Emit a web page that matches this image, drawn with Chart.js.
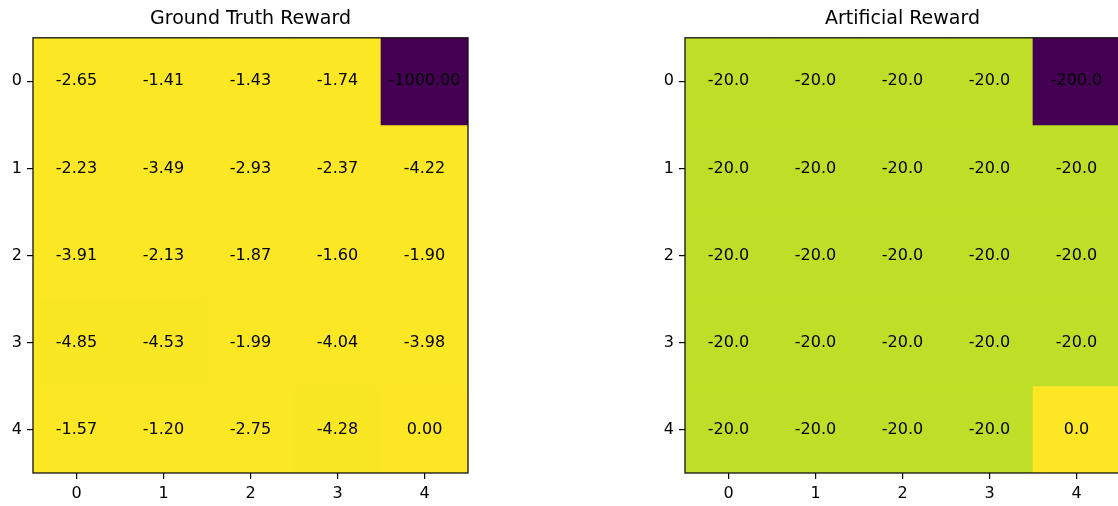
<!DOCTYPE html>
<html>
<head>
<meta charset="utf-8">
<script src="https://cdn.jsdelivr.net/npm/chart.js@4/dist/chart.umd.min.js"></script>
<style>
  html, body { margin: 0; padding: 0; background: #fff; overflow: hidden; width: 1118px; height: 506px; }
  canvas { position: absolute; top: 0; }
</style>
</head>
<body>
<canvas id="gt" width="470" height="506" style="left:0px"></canvas>
<canvas id="art" width="470" height="506" style="left:652px"></canvas>
<script>
// Grid coordinates (0..4 along both axes)
const tickLabels = ['0', '1', '2', '3', '4'];

// Ground truth reward, one array per grid row
const gtRow0 = [-2.65, -1.41, -1.43, -1.74, -1000.00];
const gtRow1 = [-2.23, -3.49, -2.93, -2.37, -4.22];
const gtRow2 = [-3.91, -2.13, -1.87, -1.60, -1.90];
const gtRow3 = [-4.85, -4.53, -1.99, -4.04, -3.98];
const gtRow4 = [-1.57, -1.20, -2.75, -4.28, 0.00];

// Artificial reward, one array per grid row
const artRow0 = [-20.0, -20.0, -20.0, -20.0, -200.0];
const artRow1 = [-20.0, -20.0, -20.0, -20.0, -20.0];
const artRow2 = [-20.0, -20.0, -20.0, -20.0, -20.0];
const artRow3 = [-20.0, -20.0, -20.0, -20.0, -20.0];
const artRow4 = [-20.0, -20.0, -20.0, -20.0, 0.0];

// Viridis colour stops (17 evenly spaced samples)
const viridisStops = [
  '#440154', '#48186a', '#472d7b', '#424086', '#3b528b', '#33638d',
  '#2c728e', '#26828e', '#21918c', '#1fa088', '#28ae80', '#3fbc73',
  '#5ec962', '#84d44b', '#addc30', '#d8e219', '#fde725'
];

function hexToRgb(h) {
  const n = parseInt(h.slice(1), 16);
  return [(n >> 16) & 255, (n >> 8) & 255, n & 255];
}

function viridis(t) {
  t = Math.max(0, Math.min(1, t));
  const pos = t * (viridisStops.length - 1);
  const i = Math.min(Math.floor(pos), viridisStops.length - 2);
  const f = pos - i;
  const a = hexToRgb(viridisStops[i]);
  const b = hexToRgb(viridisStops[i + 1]);
  const c = a.map((v, k) => Math.round(v + (b[k] - v) * f));
  return `rgb(${c[0]},${c[1]},${c[2]})`;
}

Chart.defaults.font.family = "'DejaVu Sans', sans-serif";
Chart.defaults.color = '#000';

// Writes each cell's value at its centre and outlines the plot area
const cellLabels = {
  id: 'cellLabels',
  afterDatasetsDraw(chart, args, opts) {
    const { ctx, chartArea: a } = chart;
    const xs = chart.scales.x, ys = chart.scales.y;
    ctx.save();
    ctx.fillStyle = '#000';
    ctx.font = "16px 'DejaVu Sans', sans-serif";
    ctx.textAlign = 'center';
    ctx.textBaseline = 'middle';
    opts.grid.forEach((row, r) => {
      row.forEach((v, c) => {
        ctx.fillText(v.toFixed(opts.digits), xs.getPixelForValue(c), ys.getPixelForValue(r));
      });
    });
    ctx.strokeStyle = '#111';
    ctx.lineWidth = 1.3;
    ctx.strokeRect(a.left, a.top, a.right - a.left, a.bottom - a.top);
    ctx.restore();
  }
};

function heatmap(canvasId, title, grid, digits) {
  const flat = grid.flat();
  const vmin = Math.min(...flat), vmax = Math.max(...flat);
  const datasets = grid.map((row, r) => ({
    data: row.map(() => [r - 0.5, r + 0.5]),
    backgroundColor: row.map(v => viridis((v - vmin) / (vmax - vmin))),
    borderWidth: 0,
    grouped: false,
    barPercentage: 1,
    categoryPercentage: 1
  }));

  new Chart(document.getElementById(canvasId), {
    type: 'bar',
    data: { labels: tickLabels, datasets },
    plugins: [cellLabels],
    options: {
      responsive: false,
      animation: false,
      layout: { padding: { left: 0, right: 2, top: 0, bottom: 0 } },
      plugins: {
        legend: { display: false },
        tooltip: { enabled: false },
        title: {
          display: true,
          text: title,
          fullSize: false,
          color: '#000',
          font: { size: 19, weight: 'normal' },
          padding: { top: 8, bottom: 7 }
        },
        cellLabels: { grid, digits }
      },
      scales: {
        x: {
          type: 'category',
          offset: true,
          grid: { display: true, offset: false, drawOnChartArea: false, drawTicks: true, tickLength: 6, color: '#000', lineWidth: 1.2 },
          border: { display: false },
          ticks: { color: '#000', font: { size: 16 }, padding: 5, maxRotation: 0 },
          afterFit: s => { s.height = 33; }
        },
        y: {
          type: 'linear',
          reverse: true,
          min: -0.5,
          max: 4.5,
          grid: { display: true, drawOnChartArea: false, drawTicks: true, tickLength: 6, color: '#000', lineWidth: 1.2 },
          border: { display: false },
          afterBuildTicks: s => { s.ticks = tickLabels.map((t, i) => ({ value: i })); },
          ticks: {
            color: '#000',
            font: { size: 16 },
            padding: 5,
            callback: v => tickLabels[v]
          },
          afterFit: s => { s.width = 33; }
        }
      }
    }
  });
}

heatmap('gt', 'Ground Truth Reward', [gtRow0, gtRow1, gtRow2, gtRow3, gtRow4], 2);
heatmap('art', 'Artificial Reward', [artRow0, artRow1, artRow2, artRow3, artRow4], 1);
</script>
</body>
</html>
